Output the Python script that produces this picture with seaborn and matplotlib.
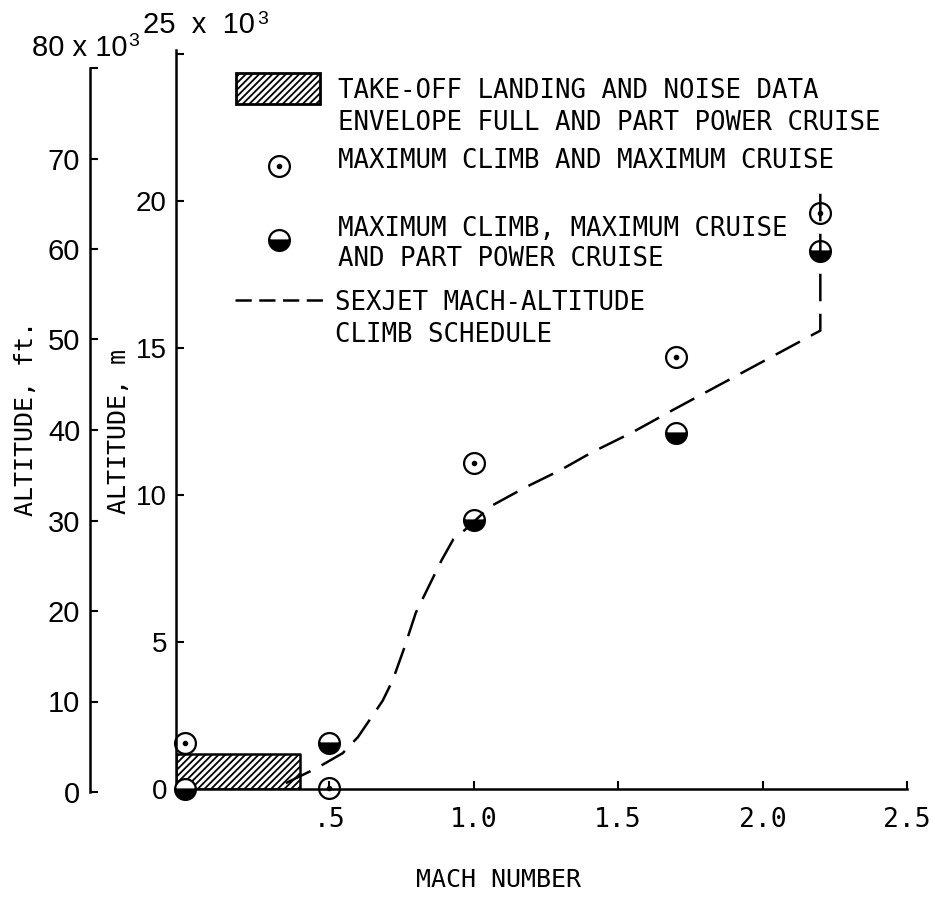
import numpy as np
import pandas as pd
import seaborn as sns
import matplotlib.pyplot as plt
from matplotlib.patches import Rectangle
from matplotlib.lines import Line2D

# sexjet mach-altitude climb schedule (altitude in km)
sched_mach = [0.35, 0.457, 0.547, 0.60, 0.685, 0.72, 0.76, 0.80, 0.85, 0.89, 0.93, 0.98,
              1.055, 1.18, 1.30, 1.41, 1.55, 1.69, 2.20, 2.20]
sched_alt = [0.2, 0.71, 1.22, 1.77, 3.0, 3.7, 4.8, 6.0, 7.0, 7.8, 8.5, 8.9,
             9.6, 10.27, 10.85, 11.46, 12.14, 12.9, 15.6, 20.3]

# maximum climb and maximum cruise
max_mach = [0.0, 0.5, 1.0, 1.7, 2.2]
max_alt = [1.55, 0.05, 11.1, 14.7, 19.6]

# maximum climb, maximum cruise and part power cruise
part_mach = [0.0, 0.5, 1.0, 1.7, 2.2]
part_alt = [0.0, 1.55, 9.15, 12.1, 18.3]

# take-off / landing / noise envelope
env_mach = 0.4
env_alt = 1.2

mach_ticks = [0.5, 1.0, 1.5, 2.0, 2.5]
mach_labels = ['.5', '1.0', '1.5', '2.0', '2.5']
m_ticks = [0, 5, 10, 15, 20, 25]
m_labels = ['0', '5', '10', '15', '20', '']
ft_ticks = [0, 10, 20, 30, 40, 50, 60, 70, 80]
ft_labels = ['0', '10', '20', '30', '40', '50', '60', '70', '']

sns.set_style('ticks')
plt.rcParams['font.family'] = ['Liberation Sans', 'DejaVu Sans']
plt.rcParams['text.color'] = 'black'
plt.rcParams['xtick.color'] = 'black'
plt.rcParams['ytick.color'] = 'black'
plt.rcParams['hatch.linewidth'] = 1.3
MONO = 'DejaVu Sans Mono'

W, H = 935, 902


def px(x, y):
    return x / W, 1 - y / H


fig = plt.figure(figsize=(W / 100, H / 100), dpi=100)
ax = fig.add_axes([176 / W, 1 - 789 / H, 731 / W, 739 / H])
ax_ft = fig.add_axes([90 / W, 1 - 792 / H, 0.0005, 724 / H])

XMIN = -0.03
ax.set_xlim(XMIN, 2.5)
ax.set_ylim(0, 25.15)

# envelope
ax.fill_between([XMIN, env_mach], 0, env_alt, facecolor='white', edgecolor='black',
                hatch='/////', linewidth=1.8, zorder=2)

df = pd.DataFrame({'mach': sched_mach, 'alt': sched_alt})
sns.lineplot(data=df, x='mach', y='alt', ax=ax, estimator=None, sort=False,
             color='black', linewidth=1.8, zorder=5)
ax.lines[-1].set_dashes([11, 5])

ax.plot(max_mach, max_alt, 'o', ms=15, mfc='none', mec='black', mew=1.6,
        clip_on=False, zorder=4)
ax.plot(max_mach, max_alt, 'o', ms=3, color='black', clip_on=False, zorder=4)
ax.plot(part_mach, part_alt, 'o', ms=15, fillstyle='bottom', mfc='black',
        markerfacecoloralt='white', mec='black', mew=1.6, clip_on=False, zorder=4)

for a in (ax, ax_ft):
    sns.despine(ax=a, top=True, right=True)
    for s in a.spines.values():
        s.set_linewidth(1.8)
        s.set_color('black')

ax.set_xticks(mach_ticks)
ax.set_xticklabels(mach_labels, family=MONO, fontsize=19)
ax.set_yticks(m_ticks)
ax.set_yticklabels(m_labels, fontsize=20)
ax.tick_params(axis='x', direction='in', length=6, width=1.5, pad=13, colors='black')
ax.tick_params(axis='y', direction='in', length=6, width=1.5, pad=6.5, colors='black')
ax.set_xlabel('')
ax.set_ylabel('')
ax.patch.set_alpha(0)

ax_ft.spines['bottom'].set_visible(False)
ax_ft.set_xticks([])
ax_ft.set_ylim(0, 80)
ax_ft.set_yticks(ft_ticks)
ax_ft.set_yticklabels(ft_labels, fontsize=21)
ax_ft.tick_params(axis='y', direction='in', length=6, width=1.5, pad=7, colors='black')
ax_ft.patch.set_alpha(0)

# scale multipliers above the axes
fig.text(*px(143, 25), '25  x  10', fontsize=21, ha='left', va='center')
fig.text(*px(257, 11), '3', fontsize=14, ha='left', va='top')
fig.text(*px(32, 48), '80 x 10', fontsize=21, ha='left', va='center')
fig.text(*px(128, 33), '3', fontsize=14, ha='left', va='top')

# axis titles
fig.text(*px(26, 419), 'ALTITUDE, ft.', family=MONO, fontsize=18, rotation=90,
         ha='center', va='center')
fig.text(*px(119, 431), 'ALTITUDE, m', family=MONO, fontsize=18, rotation=90,
         ha='center', va='center')
fig.text(*px(498, 880), 'MACH NUMBER', family=MONO, fontsize=18, ha='center', va='center')

# legend
x0, y0 = px(236, 104)
x1, y1 = px(320, 73)
fig.patches.append(Rectangle((x0, y0), x1 - x0, y1 - y0, transform=fig.transFigure,
                             facecolor='white', edgecolor='black', hatch='/////',
                             linewidth=2, figure=fig))
mx, my = px(279, 166)
fig.add_artist(Line2D([mx], [my], marker='o', ms=15, mfc='none', mec='black', mew=1.6))
fig.add_artist(Line2D([mx], [my], marker='o', ms=3, color='black'))
mx, my = px(279, 240)
fig.add_artist(Line2D([mx], [my], marker='o', ms=15, fillstyle='bottom', mfc='black',
                      markerfacecoloralt='white', mec='black', mew=1.6))
lx0, ly = px(235, 300)
lx1, _ = px(327, 300)
fig.add_artist(Line2D([lx0, lx1], [ly, ly], color='black', lw=1.8, dashes=[6.5, 3]))

legend_lines = [
    (338, 91, 'TAKE-OFF LANDING AND NOISE DATA'),
    (338, 123, 'ENVELOPE FULL AND PART POWER CRUISE'),
    (338, 161, 'MAXIMUM CLIMB AND MAXIMUM CRUISE'),
    (338, 229, 'MAXIMUM CLIMB, MAXIMUM CRUISE'),
    (338, 259, 'AND PART POWER CRUISE'),
    (335, 303, 'SEXJET MACH-ALTITUDE'),
    (335, 335, 'CLIMB SCHEDULE'),
]
for tx, ty, s in legend_lines:
    fig.text(*px(tx, ty), s, family=MONO, fontsize=18.5, ha='left', va='center')

fig.savefig('out.png', dpi=100)
